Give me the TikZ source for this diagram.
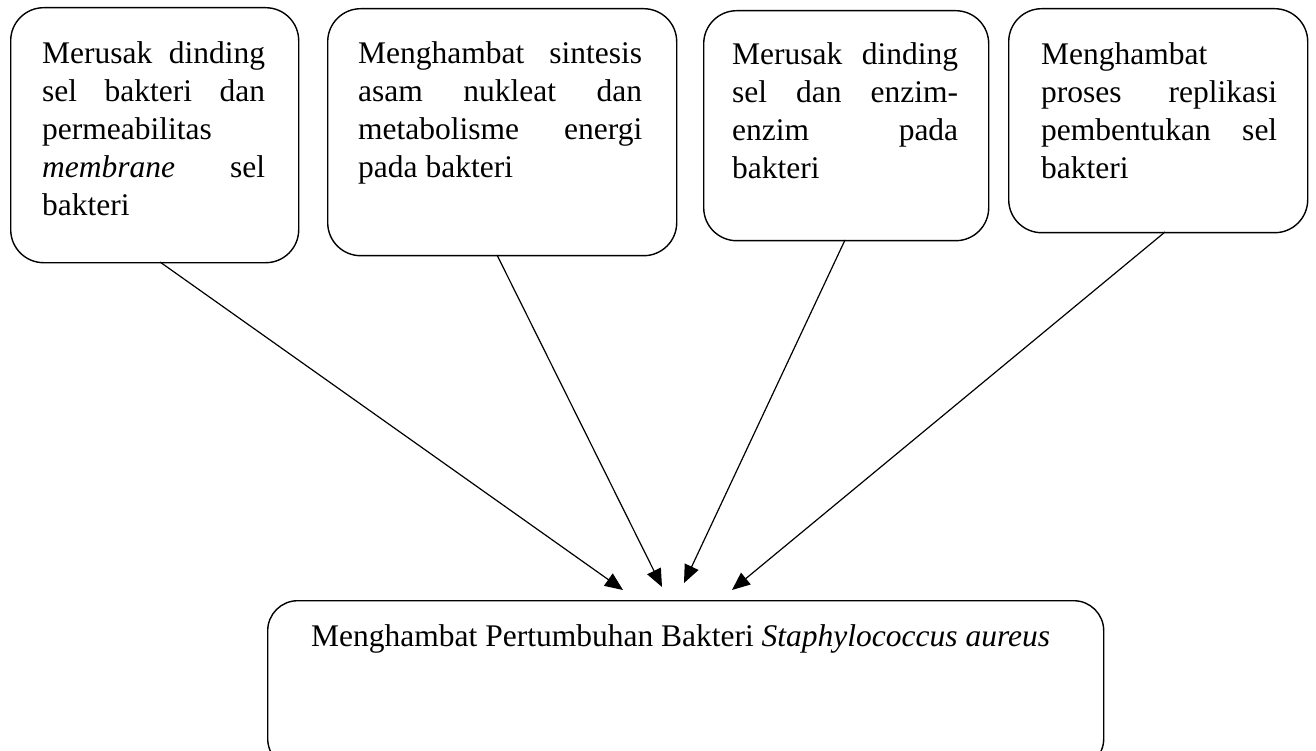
\documentclass[tikz,border=0pt]{standalone}
\usepackage{fontspec}
\setmainfont{Liberation Serif}
\usetikzlibrary{arrows.meta}
\tikzset{
  box/.style={draw=black, line width=1.4pt, rounded corners=33pt, inner sep=0pt, anchor=north west},
  bigbox/.style={draw=black, line width=1.4pt, rounded corners=30pt, inner sep=0pt, anchor=north west},
  txt/.style={inner sep=0pt, anchor=base west, align=justify, font=\fontsize{31.5pt}{38pt}\selectfont},
  conn/.style={line width=1.2pt, -{Triangle[length=18pt,width=15pt]}}
}
\begin{document}
\begin{tikzpicture}[x=1pt,y=-1pt]
\useasboundingbox (0,0) rectangle (1316,751);
% top boxes
\node[box, minimum width=288pt, minimum height=255pt] (b1) at (10,7) {};
\node[box, minimum width=349pt, minimum height=247pt] (b2) at (327,8) {};
\node[box, minimum width=285pt, minimum height=230pt] (b3) at (703,10) {};
\node[box, minimum width=299pt, minimum height=224pt] (b4) at (1008,8) {};
% bottom box
\node[bigbox, minimum width=836pt, minimum height=168pt] (bot) at (267,600) {};
% texts
\node[txt, text width=223pt] (t1) at (42,64)
  {Merusak\hfill dinding\\sel\hfill bakteri\hfill dan\\permeabilitas\\\textit{membrane}\hfill sel\\bakteri};
\node[txt, text width=284pt] (t2) at (358,64)
  {Menghambat\hfill sintesis\\asam\hfill nukleat\hfill dan\\metabolisme\hfill energi\\pada bakteri};
\node[txt, text width=226pt] (t3) at (732,65)
  {Merusak\hfill dinding\\sel\hfill dan\hfill enzim-\\enzim\hfill pada\\bakteri};
\node[txt, text width=236pt] (t4) at (1041,65)
  {Menghambat\\proses\hfill replikasi\\pembentukan\hfill sel\\bakteri};
\node[inner sep=0pt, anchor=base west, font=\fontsize{31.5pt}{38pt}\selectfont] (tb) at (311,646)
  {Menghambat Pertumbuhan Bakteri \textit{Staphylococcus aureus}};
% arrow ends
\coordinate (p1) at (623,590);
\coordinate (p2) at (662,587);
\coordinate (p3) at (684,583);
\coordinate (p4) at (732,590);
\coordinate (s1) at (160,262);
\coordinate (s2) at (497,255);
\coordinate (s3) at (845,240);
\coordinate (s4) at (1165,232);
\draw[conn] (s1) -- (p1);
\draw[conn] (s2) -- (p2);
\draw[conn] (s3) -- (p3);
\draw[conn] (s4) -- (p4);
\end{tikzpicture}
\end{document}
